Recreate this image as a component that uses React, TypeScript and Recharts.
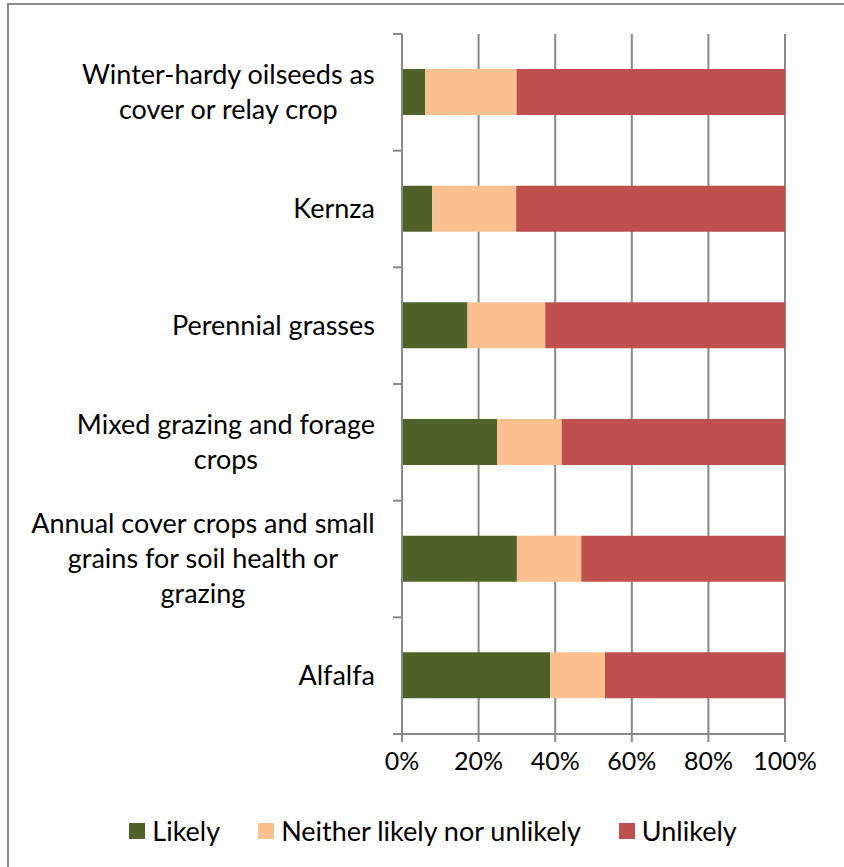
import React from 'react'
import { BarChart, Bar, XAxis, YAxis, CartesianGrid } from 'recharts'

const categories = [
  'Winter-hardy oilseeds as cover or relay crop',
  'Kernza',
  'Perennial grasses',
  'Mixed grazing and forage crops',
  'Annual cover crops and small grains for soil health or grazing',
  'Alfalfa',
]

// how each label wraps in the original
const labelLines: string[][] = [
  ['Winter-hardy oilseeds as', 'cover or relay crop'],
  ['Kernza'],
  ['Perennial grasses'],
  ['Mixed grazing and forage', 'crops'],
  ['Annual cover crops and small', 'grains for soil health or', 'grazing'],
  ['Alfalfa'],
]

const likely = [6.1, 7.9, 17.1, 24.9, 30.0, 38.7]
const neither = [23.8, 21.9, 20.3, 16.8, 16.8, 14.3]
const unlikely = [70.1, 70.2, 62.6, 58.3, 53.2, 47.0]

const xTicks = [0, 20, 40, 60, 80, 100]

const series = [
  { key: 'likely', name: 'Likely', color: '#4F6228' },
  { key: 'neither', name: 'Neither likely nor unlikely', color: '#FAC090' },
  { key: 'unlikely', name: 'Unlikely', color: '#C0504D' },
]

const data = categories.map((c, i) => ({
  category: c,
  likely: likely[i],
  neither: neither[i],
  unlikely: unlikely[i],
}))

const FONT = 'Lato, "Open Sans", sans-serif'
const LABEL_SIZE = 27
const TICK_SIZE = 25
const LEGEND_SIZE = 27
const AXIS = '#898989'

const W = 844
const H = 867
const PLOT_LEFT = 402
const PLOT_RIGHT = 785
const PLOT_TOP = 34
const PLOT_BOTTOM = 734
const BAND = (PLOT_BOTTOM - PLOT_TOP) / categories.length

let ctx: CanvasRenderingContext2D | null = null
function textWidth(s: string) {
  if (!ctx) ctx = document.createElement('canvas').getContext('2d')
  if (!ctx) return s.length * LABEL_SIZE * 0.5
  ctx.font = `${LABEL_SIZE}px Lato`
  return ctx.measureText(s).width
}

const CategoryTick = (props: any) => {
  const { y, index } = props
  const lines = labelLines[index] || [String(props.payload.value)]
  const maxW = Math.max(...lines.map(textWidth))
  const cx = 375 - maxW / 2
  const lh = 35
  const y0 = y - ((lines.length - 1) * lh) / 2
  const top = y - BAND / 2
  return (
    <g>
      <line x1={PLOT_LEFT - 9} x2={PLOT_LEFT} y1={top} y2={top} stroke={AXIS} strokeWidth={2} />
      {index === categories.length - 1 && (
        <line x1={PLOT_LEFT - 9} x2={PLOT_LEFT} y1={y + BAND / 2} y2={y + BAND / 2} stroke={AXIS} strokeWidth={2} />
      )}
      <text textAnchor="middle" fontFamily={FONT} fontSize={LABEL_SIZE} fill="#000">
        {lines.map((l, i) => (
          <tspan key={i} x={cx} y={y0 + i * lh} dy="0.35em">{l}</tspan>
        ))}
      </text>
    </g>
  )
}

export default function App() {
  return (
    <div style={{ position: 'fixed', inset: 0, overflow: 'hidden', background: '#fff' }}>
      <div style={{
        position: 'absolute', left: 7, top: 3, width: 900, height: 900,
        border: `2px solid ${AXIS}`, boxSizing: 'border-box',
      }} />
      <div style={{ position: 'absolute', left: 0, top: 0 }}>
        <BarChart
          width={W}
          height={H}
          data={data}
          layout="vertical"
          barSize={46}
          margin={{ top: PLOT_TOP, right: W - PLOT_RIGHT, bottom: 0, left: 0 }}
        >
          <CartesianGrid horizontal={false} stroke={AXIS} strokeWidth={2} />
          <XAxis
            type="number"
            domain={[0, 100]}
            ticks={xTicks}
            tickFormatter={(v) => `${v}%`}
            interval={0}
            height={H - PLOT_BOTTOM}
            tickSize={8}
            tickMargin={10}
            stroke={AXIS}
            strokeWidth={2}
            tick={{ fill: '#000', fontFamily: FONT, fontSize: TICK_SIZE }}
          />
          <YAxis
            type="category"
            dataKey="category"
            width={PLOT_LEFT}
            interval={0}
            tickLine={false}
            stroke={AXIS}
            strokeWidth={2}
            tick={<CategoryTick />}
          />
          {series.map((s) => (
            <Bar key={s.key} dataKey={s.key} name={s.name} stackId="a" fill={s.color} isAnimationActive={false} />
          ))}
        </BarChart>
      </div>
      <div style={{
        position: 'absolute', left: 0, top: 814, width: 866, display: 'flex', justifyContent: 'center',
        alignItems: 'center', gap: 38, fontFamily: FONT, fontSize: LEGEND_SIZE, color: '#000',
      }}>
        {series.map((s) => (
          <div key={s.key} style={{ display: 'flex', alignItems: 'center', gap: 7 }}>
            <span style={{ width: 16, height: 16, background: s.color, display: 'inline-block' }} />
            <span>{s.name}</span>
          </div>
        ))}
      </div>
    </div>
  )
}
